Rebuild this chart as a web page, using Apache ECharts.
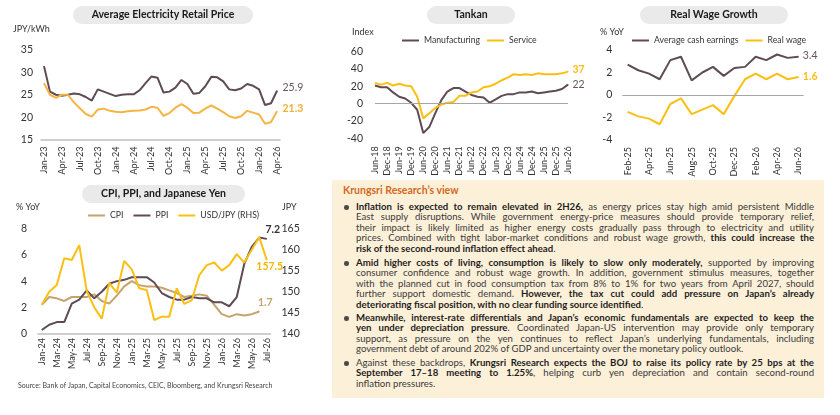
<!DOCTYPE html>
<html><head><meta charset="utf-8">
<script src="https://cdn.jsdelivr.net/npm/echarts@6/dist/echarts.min.js"></script>
<style>
html,body{margin:0;padding:0;background:#fff;}
#wrap{position:relative;width:840px;height:415px;overflow:hidden;}
#chart{position:absolute;left:0;top:0;width:840px;height:415px;}
#view{position:absolute;left:332px;top:180px;width:492px;height:218px;background:#FDF0D9;font-family:Lato,sans-serif;color:#3a3a3a;}
#view .ttl{position:absolute;left:11px;top:4px;font-weight:bold;font-size:10.5px;color:#D2691E;line-height:13px;white-space:nowrap;}
#view .p{position:absolute;left:24px;width:458px;font-size:9.6px;line-height:10.4px;}
#view .p::before{content:'';position:absolute;left:-12px;top:3px;width:4.5px;height:4.5px;border-radius:50%;background:#4a4a4a;}
#view .l{white-space:nowrap;height:10.4px;}
#view b{color:#1e1e1e;}
</style></head>
<body>
<div id="wrap">
<div id="chart"></div>
<div id="view">
<div class="ttl">Krungsri Research’s view</div>
<div class="p" style="top:22px">
<div class="l j"><span><b>Inflation is expected to remain elevated in 2H26,</b> as energy prices stay high amid persistent Middle</span></div>
<div class="l j"><span>East supply disruptions. While government energy-price measures should provide temporary relief,</span></div>
<div class="l j"><span>their impact is likely limited as higher energy costs gradually pass through to electricity and utility</span></div>
<div class="l j"><span>prices. Combined with tight labor-market conditions and robust wage growth, <b>this could increase the</b></span></div>
<div class="l"><span><b>risk of the second-round inflation effect ahead</b>.</span></div>
</div>
<div class="p" style="top:78px">
<div class="l j"><span><b>Amid higher costs of living, consumption is likely to slow only moderately,</b> supported by improving</span></div>
<div class="l j"><span>consumer confidence and robust wage growth. In addition, government stimulus measures, together</span></div>
<div class="l j"><span>with the planned cut in food consumption tax from 8% to 1% for two years from April 2027, should</span></div>
<div class="l j"><span>further support domestic demand. <b>However, the tax cut could add pressure on Japan’s already</b></span></div>
<div class="l"><span><b>deteriorating fiscal position, with no clear funding source identified</b>.</span></div>
</div>
<div class="p" style="top:133px">
<div class="l j"><span><b>Meanwhile, interest-rate differentials and Japan’s economic fundamentals are expected to keep the</b></span></div>
<div class="l j"><span><b>yen under depreciation pressure</b>. Coordinated Japan-US intervention may provide only temporary</span></div>
<div class="l j"><span>support, as pressure on the yen continues to reflect Japan’s underlying fundamentals, including</span></div>
<div class="l"><span>government debt of around 202% of GDP and uncertainty over the monetary policy outlook.</span></div>
</div>
<div class="p" style="top:178px">
<div class="l j"><span>Against these backdrops, <b>Krungsri Research expects the BOJ to raise its policy rate by 25 bps at the</b></span></div>
<div class="l j"><span><b>September 17–18 meeting to 1.25%</b>, helping curb yen depreciation and contain second-round</span></div>
<div class="l"><span>inflation pressures.</span></div>
</div>
</div>
</div>
<script>
// ---------- DATA ----------
const elecCats = ['Jan-23','Feb-23','Mar-23','Apr-23','May-23','Jun-23','Jul-23','Aug-23','Sep-23','Oct-23','Nov-23','Dec-23',
  'Jan-24','Feb-24','Mar-24','Apr-24','May-24','Jun-24','Jul-24','Aug-24','Sep-24','Oct-24','Nov-24','Dec-24',
  'Jan-25','Feb-25','Mar-25','Apr-25','May-25','Jun-25','Jul-25','Aug-25','Sep-25','Oct-25','Nov-25','Dec-25',
  'Jan-26','Feb-26','Mar-26','Apr-26'];
const elecDark = [31.4,25.7,25.0,24.8,25.0,25.3,25.1,24.5,23.7,26.2,25.7,25.2,
  24.7,25.0,25.1,25.1,26.0,27.6,29.1,28.8,25.5,25.7,26.6,28.3,
  27.4,25.2,25.4,26.9,29.0,28.9,28.0,26.2,26.0,26.4,27.4,27.0,
  26.2,22.7,23.1,25.9];
const elecYellow = [27.6,25.0,24.3,25.0,25.0,23.3,22.0,20.7,20.1,21.7,21.9,21.4,
  21.2,21.1,21.3,21.4,21.5,21.7,22.3,22.1,20.3,20.9,22.1,22.9,
  22.1,20.9,21.0,21.9,22.6,21.9,21.1,20.2,19.8,20.2,21.4,21.0,
  20.6,18.5,18.9,21.3];

const tankanCats = ['Jun-18','Sep-18','Dec-18','Mar-19','Jun-19','Sep-19','Dec-19','Mar-20','Jun-20','Sep-20','Dec-20',
  'Mar-21','Jun-21','Sep-21','Dec-21','Mar-22','Jun-22','Sep-22','Dec-22','Mar-23','Jun-23','Sep-23','Dec-23',
  'Mar-24','Jun-24','Sep-24','Dec-24','Mar-25','Jun-25','Sep-25','Dec-25','Mar-26','Jun-26'];
const manufacturing = [21,19,19,13,8,6,1,-7,-34,-27,-11,4,14,18,18,14,10,8,7,1,5,9,11,11,13,13,14,12,13,14,15,17,22];
const service = [24,22,24,21,23,21,20,8,-17,-11,-5,-1,1,2,9,9,13,14,19,20,23,27,30,34,33,34,33,35,34,34,34,35,37];

const wageCats = ['Feb-25','Mar-25','Apr-25','May-25','Jun-25','Jul-25','Aug-25','Sep-25','Oct-25','Nov-25','Dec-25',
  'Jan-26','Feb-26','Mar-26','Apr-26','May-26','Jun-26'];
const avgCash = [2.7,2.2,1.9,1.4,3.1,3.4,1.3,2.0,2.5,1.7,2.4,2.5,3.4,3.1,3.6,3.3,3.4];
const realWage = [-1.5,-1.9,-2.1,-2.6,-0.8,-0.3,-1.7,-1.3,-0.9,-1.7,-0.1,1.4,1.9,1.4,1.9,1.4,1.6];

const cpiCats = ['Jan-24','Feb-24','Mar-24','Apr-24','May-24','Jun-24','Jul-24','Aug-24','Sep-24','Oct-24','Nov-24','Dec-24',
  'Jan-25','Feb-25','Mar-25','Apr-25','May-25','Jun-25','Jul-25','Aug-25','Sep-25','Oct-25','Nov-25','Dec-25',
  'Jan-26','Feb-26','Mar-26','Apr-26','May-26','Jun-26','Jul-26'];
const cpi = [2.2,2.8,2.7,2.5,2.8,2.8,2.8,3.0,2.5,2.3,2.9,3.6,
  4.0,3.7,3.6,3.6,3.5,3.3,3.1,2.8,2.9,3.0,2.9,2.2,
  1.5,1.3,1.5,1.4,1.5,1.7,null];
const ppi = [0.3,0.7,0.9,0.9,2.3,2.6,3.3,2.7,3.2,3.8,4.0,4.1,
  4.3,4.3,4.3,3.9,3.1,2.8,2.6,2.6,2.8,2.7,2.7,2.4,
  2.4,2.1,2.8,5.3,6.6,7.3,7.2];
const usdjpy = [146.9,150.0,151.6,157.9,157.5,161.0,150.2,146.3,143.6,152.1,149.8,157.3,
  155.3,150.8,150.4,143.3,144.1,144.1,150.8,147.1,148.0,153.9,156.3,156.9,
  155.0,156.3,158.9,156.9,159.9,162.9,157.5];

// ---------- STYLE ----------
const FONT = 'Lato, sans-serif';
const DARK = '#5E4B55';
const DARK_LBL = '#66555E';
const ORANGE = '#F5B544';
const YELLOW = '#FBBF14';
const TAN = '#C6A26C';
const AXIS_TXT = '#333333';

function lastLabel(arr, label) {
  let last = -1;
  arr.forEach((v, i) => { if (v !== null && v !== undefined) last = i; });
  return arr.map((v, i) => i === last ? {
    value: v, symbol: 'circle', symbolSize: 1,
    label: Object.assign({ show: true, fontFamily: FONT }, label)
  } : v);
}
function catAxis(gridIndex, data, interval, margin, boundaryGap, showLine) {
  return {
    type: 'category', gridIndex, data, boundaryGap,
    axisTick: { show: false },
    axisLine: { show: showLine, onZero: false, lineStyle: { color: '#BFBFBF', width: 1.5 } },
    axisLabel: { rotate: 90, interval, margin, fontSize: 9, color: AXIS_TXT, fontFamily: FONT },
    splitLine: { show: false }
  };
}
function valAxis(gridIndex, min, max, interval, margin, position) {
  return {
    type: 'value', gridIndex, min, max, interval, position,
    axisLine: { show: false }, axisTick: { show: false }, splitLine: { show: false },
    axisLabel: { fontSize: 10.5, color: AXIS_TXT, margin, fontFamily: FONT, showMinLabel: true, showMaxLabel: true }
  };
}
function lineSeries(name, xi, yi, data, color) {
  return { name, type: 'line', xAxisIndex: xi, yAxisIndex: yi, data, symbol: 'none', showSymbol: true, showAllSymbol: true,
    lineStyle: { color, width: 2 }, itemStyle: { color }, label: { show: false }, z: 3, connectNulls: false };
}
function pill(x, y, w, h, text) {
  return [
    { type: 'rect', shape: { x, y, width: w, height: h, r: h / 2 }, style: { fill: '#EAEAEA' }, z: 1 },
    { type: 'text', x: x + w / 2, y: y + h / 2, z: 2,
      style: { text, fontFamily: FONT, fontWeight: 'bold', fontSize: 10.5, fill: '#1a1a1a', align: 'center', verticalAlign: 'middle' } }
  ];
}
function note(x, y, text, align) {
  return { type: 'text', x, y, style: { text, fontFamily: FONT, fontSize: 9, fill: AXIS_TXT, align: align || 'left', verticalAlign: 'middle' } };
}
const legendBase = { orient: 'horizontal', padding: 0, itemWidth: 17, itemHeight: 2, itemGap: 7, icon: 'rect',
  textStyle: { fontSize: 8.7, color: AXIS_TXT, fontFamily: FONT }, selectedMode: false };

const zeroLine = { silent: true, symbol: ['none', 'none'], label: { show: false }, animation: false,
  lineStyle: { color: '#A6A6A6', width: 1, type: 'solid' }, data: [{ yAxis: 0 }] };

const chart = echarts.init(document.getElementById('chart'), null, { renderer: 'canvas' });
const option = {
  animation: false,
  backgroundColor: '#ffffff',
  textStyle: { fontFamily: FONT },
  grid: [
    { left: 41, top: 50, width: 239, height: 89.5, containLabel: false, outerBoundsMode: 'none' },
    { left: 375, top: 51.7, width: 193, height: 86.6, containLabel: false, outerBoundsMode: 'none' },
    { left: 622.3, top: 50, width: 181.4, height: 90, containLabel: false, outerBoundsMode: 'none' },
    { left: 38, top: 228.3, width: 232.5, height: 105.7, containLabel: false, outerBoundsMode: 'none' }
  ],
  xAxis: [
    catAxis(0, elecCats, 2, 7, true, true),
    catAxis(1, tankanCats, 1, 8, false, false),
    catAxis(2, wageCats, 1, 7, true, false),
    catAxis(3, cpiCats, 1, 4, true, true)
  ],
  yAxis: [
    valAxis(0, 15, 35, 5, 8, 'left'),
    valAxis(1, -40, 60, 20, 12, 'left'),
    valAxis(2, -4, 4, 2, 10, 'left'),
    valAxis(3, 0, 8, 2, 11, 'left'),
    Object.assign(valAxis(3, 140, 165, 5, 11, 'right'), { alignTicks: false })
  ],
  legend: [
    Object.assign({}, legendBase, { data: ['Manufacturing', 'Service'], left: 402, top: 36 }),
    Object.assign({}, legendBase, { data: ['Average cash earnings', 'Real wage'], left: 632, top: 36 }),
    Object.assign({}, legendBase, { data: ['CPI', 'PPI', 'USD/JPY (RHS)'], left: 88, top: 211, itemGap: 10 })
  ],
  series: [
    lineSeries('Electricity price A', 0, 0, lastLabel(elecDark, { position: 'right', distance: 5, offset: [0, -3], color: DARK_LBL, fontSize: 10.5 }), DARK),
    lineSeries('Electricity price B', 0, 0, lastLabel(elecYellow, { position: 'right', distance: 5, offset: [0, -3], color: '#F2B133', fontSize: 10.5, fontWeight: 'bold' }), ORANGE),

    Object.assign(lineSeries('Manufacturing', 1, 1, lastLabel(manufacturing, { position: 'right', distance: 4, offset: [0, 0], color: DARK_LBL, fontSize: 10.5 }), DARK), { markLine: zeroLine }),
    lineSeries('Service', 1, 1, lastLabel(service, { position: 'right', distance: 4, offset: [0, -2], color: YELLOW, fontSize: 10.5, fontWeight: 'bold' }), YELLOW),

    Object.assign(lineSeries('Average cash earnings', 2, 2, lastLabel(avgCash, { position: 'right', distance: 4, offset: [0, -1], color: DARK_LBL, fontSize: 10.5 }), DARK), { markLine: zeroLine }),
    lineSeries('Real wage', 2, 2, lastLabel(realWage, { position: 'right', distance: 4, offset: [0, 0], color: YELLOW, fontSize: 10.5, fontWeight: 'bold' }), YELLOW),

    lineSeries('CPI', 3, 3, lastLabel(cpi, { position: 'top', distance: 5, offset: [6, 2], color: TAN, fontSize: 10.5, fontWeight: 'bold' }), TAN),
    lineSeries('PPI', 3, 3, lastLabel(ppi, { position: 'top', distance: 5, offset: [6, 2], color: '#3C3035', fontSize: 10.5, fontWeight: 'bold' }), DARK),
    lineSeries('USD/JPY (RHS)', 3, 4, lastLabel(usdjpy, { position: 'bottom', distance: 5, offset: [3, -4], color: '#F5B800', fontSize: 10.5, fontWeight: 'bold' }), YELLOW)
  ],
  graphic: [].concat(
    pill(73, 6, 180, 18, 'Average Electricity Retail Price'),
    pill(427, 6, 88, 18, 'Tankan'),
    pill(640, 6, 148, 18, 'Real Wage Growth'),
    pill(82, 185, 163, 18, 'CPI, PPI, and Japanese Yen'),
    [
      note(13, 29, 'JPY/kWh'),
      note(352, 32, 'Index'),
      note(600, 32, '% YoY'),
      note(16, 207, '% YoY'),
      note(282, 207, 'JPY'),
      { type: 'text', x: 18, y: 386, style: { text: 'Source: Bank of Japan, Capital Economics, CEIC, Bloomberg, and Krungsri Research',
        fontFamily: FONT, fontSize: 7, fill: '#444', align: 'left', verticalAlign: 'middle' } }
    ]
  )
};
chart.setOption(option);

// justify commentary lines to the same line breaks as the reference
const AVAIL = 458;
document.querySelectorAll('#view .l').forEach(l => {
  const span = l.firstElementChild;
  const w = span.getBoundingClientRect().width;
  if (l.classList.contains('j')) {
    const spaces = (span.textContent.match(/ /g) || []).length;
    if (spaces > 0) span.style.wordSpacing = ((AVAIL - w) / spaces) + 'px';
  } else if (w > AVAIL) {
    span.style.letterSpacing = ((AVAIL - w) / span.textContent.length) + 'px';
  }
});
</script>
</body></html>
